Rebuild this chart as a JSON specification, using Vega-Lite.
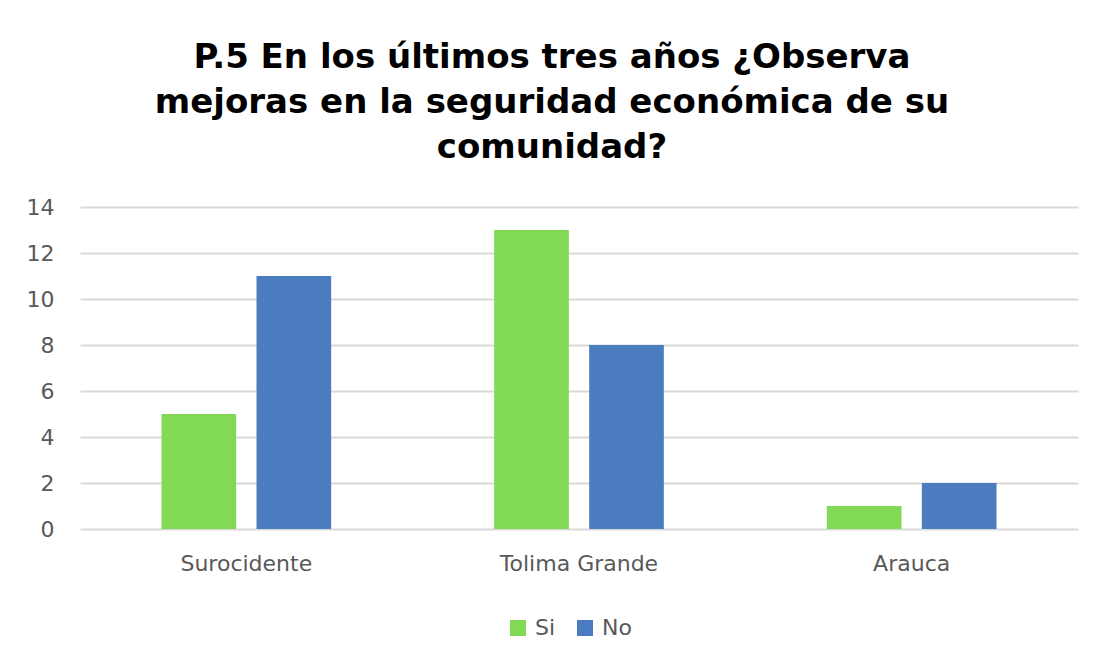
{
  "$schema": "https://vega.github.io/schema/vega-lite/v6.json",
  "autosize": "none",
  "width": 998,
  "height": 322,
  "padding": {"left": 80, "top": 207, "right": 24, "bottom": 138},
  "background": "white",
  "title": {
    "text": ["P.5 En los últimos tres años ¿Observa", "mejoras en la seguridad económica de su", "comunidad?"],
    "font": "DejaVu Sans",
    "fontSize": 34,
    "fontWeight": "bold",
    "color": "#000000",
    "lineHeight": 45,
    "anchor": "middle",
    "frame": "bounds",
    "offset": 31
  },
  "data": {
    "values": [
      {"region": "Surocidente", "respuesta": "Si", "valor": 5},
      {"region": "Surocidente", "respuesta": "No", "valor": 11},
      {"region": "Tolima Grande", "respuesta": "Si", "valor": 13},
      {"region": "Tolima Grande", "respuesta": "No", "valor": 8},
      {"region": "Arauca", "respuesta": "Si", "valor": 1},
      {"region": "Arauca", "respuesta": "No", "valor": 2}
    ]
  },
  "mark": {"type": "bar"},
  "encoding": {
    "x": {
      "field": "region",
      "type": "nominal",
      "sort": ["Surocidente", "Tolima Grande", "Arauca"],
      "scale": {"paddingInner": 0.49, "paddingOuter": 0.245},
      "axis": {"title": null, "labelAngle": 0, "ticks": false, "domain": false, "labelPadding": 24, "labelFont": "DejaVu Sans", "labelFontSize": 22, "labelColor": "#595959", "grid": false}
    },
    "xOffset": {
      "field": "respuesta",
      "type": "nominal",
      "sort": ["Si", "No"],
      "scale": {"paddingInner": 0.214, "paddingOuter": 0}
    },
    "y": {
      "field": "valor",
      "type": "quantitative",
      "scale": {"domain": [0, 14]},
      "axis": {"title": null, "values": [0, 2, 4, 6, 8, 10, 12, 14], "ticks": false, "domain": false, "labelPadding": 26, "labelFont": "DejaVu Sans", "labelFontSize": 22, "labelColor": "#595959", "gridColor": "#d9d9d9", "gridWidth": 2}
    },
    "color": {
      "field": "respuesta",
      "type": "nominal",
      "sort": ["Si", "No"],
      "scale": {"domain": ["Si", "No"], "range": ["#82D955", "#4A7CBF"]},
      "legend": {"title": null, "orient": "none", "legendX": 427, "legendY": 410, "direction": "horizontal", "symbolType": "square", "symbolSize": 256, "symbolStrokeWidth": 0, "labelFont": "DejaVu Sans", "labelFontSize": 22, "labelColor": "#595959", "labelOffset": 6, "columnPadding": 18}
    }
  },
  "config": {"view": {"stroke": null}}
}
